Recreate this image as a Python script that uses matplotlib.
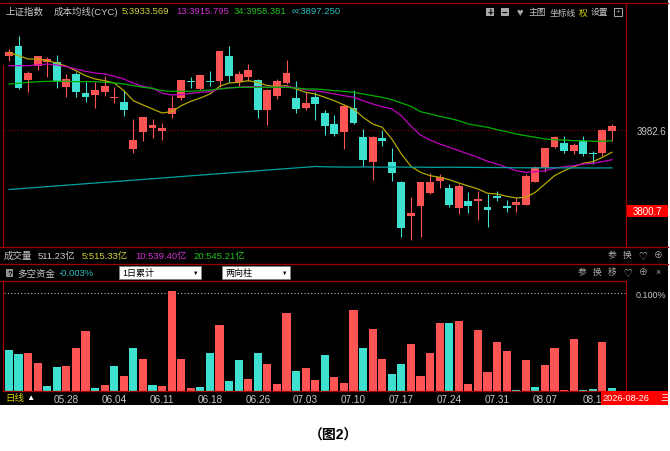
import numpy as np
import matplotlib
matplotlib.use('Agg')
import matplotlib.pyplot as plt
from matplotlib.patches import Rectangle
from matplotlib.lines import Line2D

plt.rcParams['font.family'] = ['Liberation Sans', 'Noto Sans CJK SC', 'DejaVu Sans']

#=========================================================
#            DATA
#=========================================================
opens = [4149.8, 4170.9, 4095.1, 4125.9, 4136.3, 4134.9, 4080.0, 4108.6, 4065.9, 4062.0,
         4067.4, 4053.9, 4044.9, 3939.9, 3978.8, 3986.4, 3981.0, 4019.3, 4053.9, 4093.5,
         4074.2, 4093.5, 4092.2, 4149.8, 4091.3, 4101.2, 4095.8, 4028.3, 4058.4, 4088.4,
         4053.9, 4032.1, 4057.5, 4020.2, 3996.1, 3978.8, 4032.1, 3967.5, 3909.9, 3964.6,
         3911.3, 3864.9, 3789.8, 3812.3, 3840.2, 3868.5, 3852.1, 3807.1, 3822.2, 3822.2,
         3808.7, 3833.4, 3811.6, 3814.5, 3814.5, 3864.9, 3897.1, 3945.0, 3952.7, 3934.7,
         3958.5, 3931.5, 3930.9, 3980.4]
closes = [4158.8, 4076.4, 4110.2, 4148.4, 4142.4, 4092.2, 4097.4, 4067.4, 4057.5, 4073.3,
          4082.3, 4056.9, 4027.6, 3960.1, 4011.2, 3993.9, 3987.8, 4032.1, 4095.1, 4091.3,
          4105.7, 4089.9, 4159.7, 4104.8, 4108.6, 4117.6, 4028.3, 4073.3, 4093.5, 4110.9,
          4029.9, 4042.7, 4041.1, 3990.9, 3973.6, 4035.9, 3997.7, 3915.1, 3967.5, 3958.5,
          3885.2, 3761.4, 3795.2, 3864.9, 3866.3, 3877.5, 3813.9, 3857.3, 3812.3, 3827.4,
          3802.6, 3829.6, 3807.8, 3819.9, 3879.8, 3900.0, 3941.4, 3967.5, 3936.0, 3948.9,
          3928.6, 3928.6, 3983.3, 3990.9]
highs = [4164.9, 4194.8, 4116.0, 4149.8, 4146.2, 4151.4, 4108.6, 4112.4, 4089.9, 4089.9,
         4104.8, 4078.7, 4072.6, 4007.4, 4011.2, 4007.4, 3997.7, 4059.8, 4095.1, 4102.5,
         4106.4, 4114.7, 4159.7, 4170.9, 4114.7, 4131.1, 4097.4, 4074.9, 4097.4, 4140.1,
         4092.2, 4067.4, 4067.4, 4027.6, 4016.4, 4041.1, 4073.3, 3984.9, 3969.8, 3982.6,
         3941.4, 3868.5, 3831.2, 3866.3, 3885.9, 3883.6, 3861.1, 3861.1, 3842.4, 3844.7,
         3838.6, 3846.0, 3825.8, 3829.6, 3883.6, 3902.3, 3941.4, 3969.8, 3968.4, 3952.7,
         3968.4, 3936.0, 3984.9, 3996.1]
lows = [4138.5, 4074.9, 4067.4, 4118.3, 4102.5, 4077.1, 4056.2, 4056.2, 4046.3, 4032.1,
        4059.8, 4043.4, 4014.8, 3930.2, 3957.2, 3964.6, 3960.1, 4009.6, 4050.8, 4077.1,
        4072.6, 4080.9, 4078.7, 4089.9, 4080.9, 4093.5, 4008.9, 3993.9, 4052.4, 4086.1,
        4020.2, 4027.6, 4005.8, 3971.4, 3969.8, 3939.9, 3996.1, 3902.3, 3870.1, 3945.9,
        3868.5, 3741.2, 3735.8, 3741.2, 3838.6, 3851.4, 3808.7, 3793.6, 3795.2, 3780.1,
        3765.0, 3822.2, 3797.4, 3797.4, 3814.5, 3864.9, 3887.4, 3941.4, 3930.9, 3928.6,
        3924.8, 3906.1, 3924.8, 3958.5]

# cost moving averages (CYC 5 / 13 / 34 / infinity)
ma5 = [4157.4, 4149.8, 4142.4, 4142.4, 4138.5, 4133.4, 4125.9, 4116.0, 4104.8, 4097.4,
       4093.5, 4088.4, 4071.0, 4048.5, 4038.9, 4029.9, 4020.9, 4023.8, 4037.3, 4047.2,
       4054.6, 4063.6, 4080.9, 4088.4, 4089.9, 4093.5, 4089.9, 4082.3, 4080.9, 4082.3,
       4074.9, 4067.4, 4063.6, 4056.2, 4048.5, 4038.9, 4029.9, 4011.2, 3996.1, 3988.7,
       3962.4, 3928.6, 3900.9, 3887.4, 3879.8, 3876.2, 3870.8, 3863.4, 3856.6, 3849.9,
       3840.2, 3838.6, 3833.4, 3829.6, 3831.2, 3842.4, 3861.1, 3879.8, 3891.0, 3900.0,
       3907.7, 3911.3, 3921.2, 3932.4]
ma13 = [4127.3, 4127.3, 4127.3, 4128.9, 4131.1, 4128.9, 4125.0, 4119.9, 4114.7, 4110.9,
        4108.6, 4103.4, 4097.4, 4087.7, 4080.9, 4076.4, 4065.2, 4061.4, 4062.0, 4065.2,
        4067.4, 4068.8, 4074.9, 4077.8, 4078.7, 4080.0, 4080.0, 4078.7, 4078.7, 4080.9,
        4077.1, 4073.3, 4071.0, 4067.4, 4063.6, 4059.8, 4056.2, 4048.5, 4041.1, 4035.0,
        4029.9, 4014.8, 3990.9, 3971.4, 3960.1, 3951.1, 3943.7, 3936.0, 3928.6, 3921.2,
        3912.2, 3906.1, 3898.7, 3891.0, 3887.4, 3888.8, 3891.0, 3896.4, 3900.0, 3902.3,
        3906.1, 3907.7, 3911.3, 3915.8]
ma34 = [4086.1, 4087.7, 4089.9, 4091.3, 4092.2, 4092.2, 4092.2, 4091.3, 4091.3, 4091.3,
        4089.9, 4088.4, 4086.1, 4082.3, 4078.7, 4076.4, 4071.0, 4069.7, 4069.7, 4069.7,
        4071.0, 4072.6, 4074.9, 4077.1, 4078.7, 4078.7, 4078.7, 4078.7, 4078.7, 4078.7,
        4077.1, 4074.9, 4074.9, 4073.3, 4071.0, 4069.7, 4067.4, 4063.6, 4059.8, 4056.2,
        4050.8, 4043.4, 4035.9, 4023.8, 4018.6, 4013.4, 4008.9, 4003.5, 3996.1, 3992.3,
        3988.7, 3983.3, 3978.8, 3973.6, 3969.8, 3966.2, 3962.4, 3960.8, 3960.1, 3958.5,
        3958.5, 3957.2, 3957.2, 3958.4]
ma_inf = [3848.7, 3850.3, 3851.9, 3853.6, 3855.2, 3856.8, 3858.4, 3860.0, 3861.7, 3863.3,
          3864.9, 3866.5, 3868.1, 3869.8, 3871.4, 3873.0, 3874.6, 3876.2, 3877.9, 3879.5,
          3881.1, 3882.7, 3884.3, 3886.0, 3887.6, 3889.2, 3890.8, 3892.4, 3894.1, 3895.7,
          3897.3, 3898.9, 3900.5, 3899.8, 3899.5, 3899.2, 3899.2, 3899.5, 3899.2, 3898.9,
          3899.2, 3899.2, 3898.9, 3898.9, 3898.6, 3898.6, 3898.9, 3898.6, 3898.6, 3898.3,
          3898.3, 3898.0, 3898.0, 3897.6, 3897.6, 3897.6, 3897.3, 3897.6, 3897.3, 3897.3,
          3897.3, 3897.0, 3897.3, 3897.3]

# 多空资金 (%), negative = outflow (cyan)
flow = [-0.0418, -0.0377, 0.0390, 0.0281, -0.0048, -0.0243, 0.0254, 0.0441, 0.0613, -0.0028,
        0.0055, -0.0254, 0.0154, -0.0435, 0.0322, -0.0059, 0.0051, 0.1027, 0.0329, 0.0028,
        -0.0041, -0.0390, 0.0675, -0.0103, -0.0312, 0.0117, -0.0390, 0.0274, 0.0069, 0.0798,
        -0.0202, 0.0230, 0.0110, -0.0370, 0.0138, 0.0079, 0.0829, -0.0441, 0.0637, 0.0329,
        -0.0168, -0.0274, 0.0479, 0.0154, 0.0390, 0.0698, -0.0692, 0.0713, 0.0066, 0.0623,
        0.0195, 0.0503, 0.0408, -0.0008, 0.0315, -0.0041, 0.0261, 0.0441, 0.0008, 0.0531,
        -0.0008, -0.0014, 0.0497, -0.0030]

date_idx = [6, 11, 16, 21, 26, 31, 36, 41, 46, 51, 56, 61]
date_labels = ['05.28', '06.04', '06.11', '06.18', '06.26', '07.03',
               '07.10', '07.17', '07.24', '07.31', '08.07', '08.1']

last_price = 3982.6
mark_price = 3800.7
flow_ref = 0.1

#=========================================================
#             STYLE / HELPERS
#=========================================================
RED = '#ff5454'
CYAN = '#3ee0d0'
BORDER = '#a00000'
GREY = '#c8c8c8'
YEL = '#d2d23c'
MAG = '#d030d0'
GRN = '#20c020'
CYT = '#30c0c0'
HS = 6.8   # header font size

W, H = 670, 452
fig = plt.figure(figsize=(6.7, 4.52), dpi=100, facecolor='white')

def fbox(x0, y0, x1, y1):
    return [x0 / W, 1 - y1 / H, (x1 - x0) / W, (y1 - y0) / H]

def ftext(x, y, s, color, size=HS, ha='left', **kw):
    fig.text(x / W, 1 - y / H, s, color=color, fontsize=size, ha=ha, va='center', **kw)

def fline(x0, y0, x1, y1, color=BORDER, lw=0.9):
    fig.add_artist(Line2D([x0 / W, x1 / W], [1 - y0 / H, 1 - y1 / H],
                          transform=fig.transFigure, color=color, lw=lw, zorder=5))

def frect(x0, y0, x1, y1, **kw):
    fig.add_artist(Rectangle((x0 / W, 1 - y1 / H), (x1 - x0) / W, (y1 - y0) / H,
                             transform=fig.transFigure, **kw))

frect(0, 0, 668, 406, fc='black', ec='none', zorder=-1)

def clean(a):
    a.set_facecolor('black')
    for s in a.spines.values():
        s.set_visible(False)

x = np.arange(len(opens))
o = np.array(opens); c = np.array(closes)
up = c >= o
ccol = [RED if u else CYAN for u in up]

#=========================================================
#             MAIN CANDLE PANEL
#=========================================================
ax = fig.add_axes(fbox(4, 20, 626, 248))
clean(ax)
ax.vlines(x, lows, highs, colors=ccol, lw=0.8, zorder=2)
body_lo = np.minimum(o, c)
body_h = np.maximum(np.abs(c - o), 1.6)
ax.bar(x, body_h, bottom=body_lo, width=0.82, color=ccol, lw=0, zorder=3)
ax.plot(x, ma5, color='#b4aa00', lw=0.9, zorder=4)
ax.plot(x, ma13, color='#c000c0', lw=0.9, zorder=4)
ax.plot(x, ma34, color='#00b000', lw=0.9, zorder=4)
ax.plot(x, ma_inf, color='#00a0a0', lw=0.9, zorder=4)
ax.axhline(last_price, color='#8c0000', lw=0.8, ls=(0, (1, 2)), zorder=1)
ax.set_xlim(-0.52, 64.47)
ax.set_ylim(3719.35, 4232.35)
ax.set_xticks([])
ax.yaxis.tick_right()
ax.set_yticks([last_price])
ax.set_yticklabels(['%.1f' % last_price])
ax.tick_params(axis='y', length=0, pad=7.5, labelcolor=GREY, labelsize=7)

frect(627, 206, 668, 218, fc='#ff0000', ec='none', zorder=6)
ftext(647, 212, '%.1f' % mark_price, 'white', 7, ha='center', zorder=7)

#=========================================================
#             MONEY FLOW PANEL
#=========================================================
ax2 = fig.add_axes(fbox(4, 282, 626, 392))
clean(ax2)
fl = np.array(flow)
ax2.bar(x, np.maximum(np.abs(fl), 0.0009), width=0.85,
        color=[RED if v > 0 else CYAN for v in fl], lw=0, zorder=3)
ax2.axhline(flow_ref, color='#b4b4b4', lw=0.8, ls=(0, (1, 2)), zorder=1)
ax2.set_xlim(-0.52, 64.47)
ax2.set_ylim(-0.0003, 0.1126)
ax2.yaxis.tick_right()
ax2.set_yticks([flow_ref])
ax2.set_yticklabels(['0.100%'])
ax2.tick_params(axis='y', length=0, pad=7, labelcolor=GREY, labelsize=6.5)
ax2.set_xticks(date_idx)
ax2.set_xticklabels(date_labels)
ax2.tick_params(axis='x', length=0, pad=2, labelcolor=GREY, labelsize=7.2)

#=========================================================
#             BORDERS
#=========================================================
fline(0, 4, 668, 4)
fline(626, 4, 626, 248)
fline(3, 66, 3, 248)
fline(0, 248, 668, 248)
fline(0, 265, 668, 265)
fline(0, 282, 626, 282)
fline(3, 282, 3, 392)
fline(626, 282, 626, 392)
fline(3, 392, 626, 392)

#=========================================================
#             HEADER TEXTS
#=========================================================
ftext(5, 12, '上证指数', '#d0d0d0')
ftext(54, 12, '成本均线(CYC)', GREY)
ftext(122, 12, '5:3933.569', YEL)
ftext(176, 12, '13:3915.795', MAG)
ftext(234, 12, '34:3958.381', GRN)
ftext(292, 12, '∞:3897.250', CYT)

frect(486, 9, 494, 17, fc='#a8a8a8', ec='none', zorder=6)
ftext(490, 12.6, '+', 'black', 7, ha='center', weight='bold', zorder=7)
frect(501, 9, 509, 17, fc='#a8a8a8', ec='none', zorder=6)
ftext(505, 12.6, '−', 'black', 7, ha='center', weight='bold', zorder=7)
ftext(519.5, 13, '♥', '#a8a8a8', 8, ha='center')
ftext(529, 13, '主图', GREY, 6.3)
ftext(550, 13, '坐标线', GREY, 6.3)
ftext(579, 13, '权', '#d8d800', 6.3)
ftext(591, 13, '设置', GREY, 6.3)
frect(614, 9, 622, 17, fc='none', ec='#a8a8a8', lw=0.7, zorder=6)
ftext(618, 12.6, '+', '#a8a8a8', 5.5, ha='center')

# volume row
ftext(4, 256, '成交量', GREY)
ftext(38, 256, '511.23亿', GREY)
ftext(82, 256, '5:515.33亿', YEL)
ftext(135, 256, '10:539.40亿', MAG)
ftext(193, 256, '20:545.21亿', GRN)
for px, s in [(612, '参'), (627, '换'), (643, '♡'), (658, '⊕')]:
    ftext(px, 255.5, s, '#b0b0b0', 6.3, ha='center')

# indicator row
frect(6, 270, 13, 278, fc='#909090', ec='none', zorder=6)
ftext(9.5, 274, '?', 'black', 5.5, ha='center', weight='bold', zorder=7)
ftext(17, 274, '多空资金', GREY)
ftext(59, 274, '-0.003%', CYT)
frect(119, 267, 201, 280, fc='white', ec='#808080', lw=0.6, zorder=6)
ftext(122, 273.5, '1日累计', 'black', 6.5, zorder=7)
ftext(196, 273.5, '▼', 'black', 4, ha='center', zorder=7)
frect(222, 267, 290, 280, fc='white', ec='#808080', lw=0.6, zorder=6)
ftext(225, 273.5, '两向柱', 'black', 6.5, zorder=7)
ftext(285, 273.5, '▼', 'black', 4, ha='center', zorder=7)
for px, s in [(582, '参'), (597, '换'), (612, '移'), (628, '♡'), (643, '⊕'), (657.5, '×')]:
    ftext(px, 272.5, s, '#b0b0b0', 6.3, ha='center')

# bottom row
ftext(5, 399, '日线', '#d8d800')
ftext(26, 399, '▲', 'white', 6)
frect(600.7, 392, 668, 406, fc='#ff0000', ec='none', zorder=6)
ftext(602, 399, '2026-08-26', 'white', 6.6, zorder=7)
ftext(660, 399, '三', 'white', 6.6, zorder=7)

# caption
ftext(333, 436, '（图2）', 'black', 10, ha='center', weight='bold')

plt.savefig('out.png', dpi=100, facecolor='white')
